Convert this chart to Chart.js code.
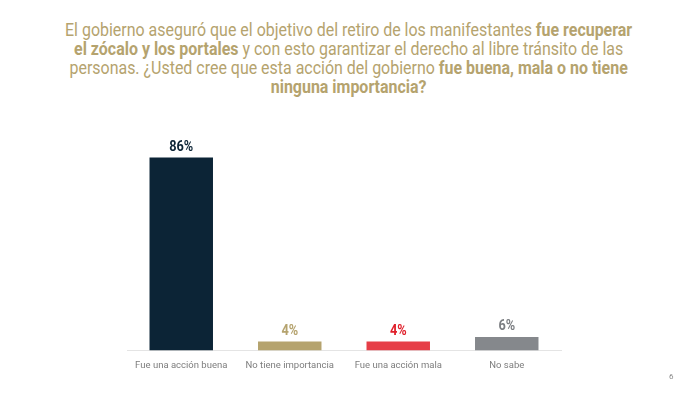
<!DOCTYPE html>
<html>
<head>
<meta charset="utf-8">
<script src="https://cdn.jsdelivr.net/npm/chart.js@4"></script>
<style>
  html, body { margin: 0; padding: 0; background: #fff; }
  body { width: 697px; height: 396px; position: relative; overflow: hidden; }
  #titulo {
    position: absolute; left: 0; top: 20px; width: 697px;
    text-align: center; color: #b5a36e;
    font-family: "Roboto", sans-serif;
    font-size: 19px; line-height: 19px;
    white-space: nowrap;
  }
  #titulo span { display: inline-block; transform: scaleX(0.84); transform-origin: center; }
  #titulo b { font-weight: bold; }
  #grafica { position: absolute; left: 0; top: 0; }
  #pagina {
    position: absolute; left: 669px; top: 372px;
    font-family: "Roboto", sans-serif; font-size: 8px; color: #888;
  }
</style>
</head>
<body>
<div id="titulo"><span>El gobierno aseguró que el objetivo del retiro de los manifestantes <b>fue recuperar</b><br><b>el zócalo y los portales</b> y con esto garantizar el derecho al libre tránsito de las<br>personas. ¿Usted cree que esta acción del gobierno <b>fue buena, mala o no tiene</b><br><b>ninguna importancia?</b></span></div>
<canvas id="grafica" width="697" height="396"></canvas>
<div id="pagina">6</div>
<script>
"use strict";
var categorias = ["Fue una acción buena", "No tiene importancia", "Fue una acción mala", "No sabe"];
var porcentajes = [86, 4, 4, 6];
var coloresBarra = ["#0c2436", "#b5a36e", "#e63e47", "#85888c"];
var coloresEtiqueta = ["#0c2436", "#b5a36e", "#e0202b", "#7b7e82"];

var etiquetasPlugin = {
    id: "etiquetas",
    afterDatasetsDraw: function (chart) {
        var ctx = chart.ctx;
        var meta = chart.getDatasetMeta(0);
        meta.data.forEach(function (bar, i) {
            ctx.save();
            ctx.translate(bar.x, bar.y - 3);
            ctx.scale(0.85, 1);
            ctx.font = "bold 15px Roboto, sans-serif";
            ctx.textAlign = "center";
            ctx.textBaseline = "bottom";
            ctx.fillStyle = coloresEtiqueta[i];
            ctx.fillText(porcentajes[i] + "%", 0, 0);
            ctx.restore();
        });
    },
};

var ctx = document.getElementById("grafica").getContext("2d");
var myChart = new Chart(ctx, {
    type: "bar",
    data: {
        labels: categorias,
        datasets: [
            {
                data: porcentajes,
                backgroundColor: coloresBarra,
                categoryPercentage: 1,
                barPercentage: 0.585,
            },
        ],
    },
    options: {
        responsive: false,
        animation: false,
        layout: {
            padding: { left: 127, right: 136, top: 126, bottom: 24 },
        },
        plugins: {
            legend: { display: false },
            tooltip: { enabled: false },
        },
        scales: {
            x: {
                grid: { display: false },
                border: { color: "#e4e4e4", width: 1 },
                ticks: {
                    color: "#7d7d7d",
                    font: { family: "Roboto", size: 9.5 },
                    padding: 1,
                    maxRotation: 0,
                },
            },
            y: {
                display: false,
                min: 0,
                max: 100,
            },
        },
    },
    plugins: [etiquetasPlugin],
});
</script>
</body>
</html>
